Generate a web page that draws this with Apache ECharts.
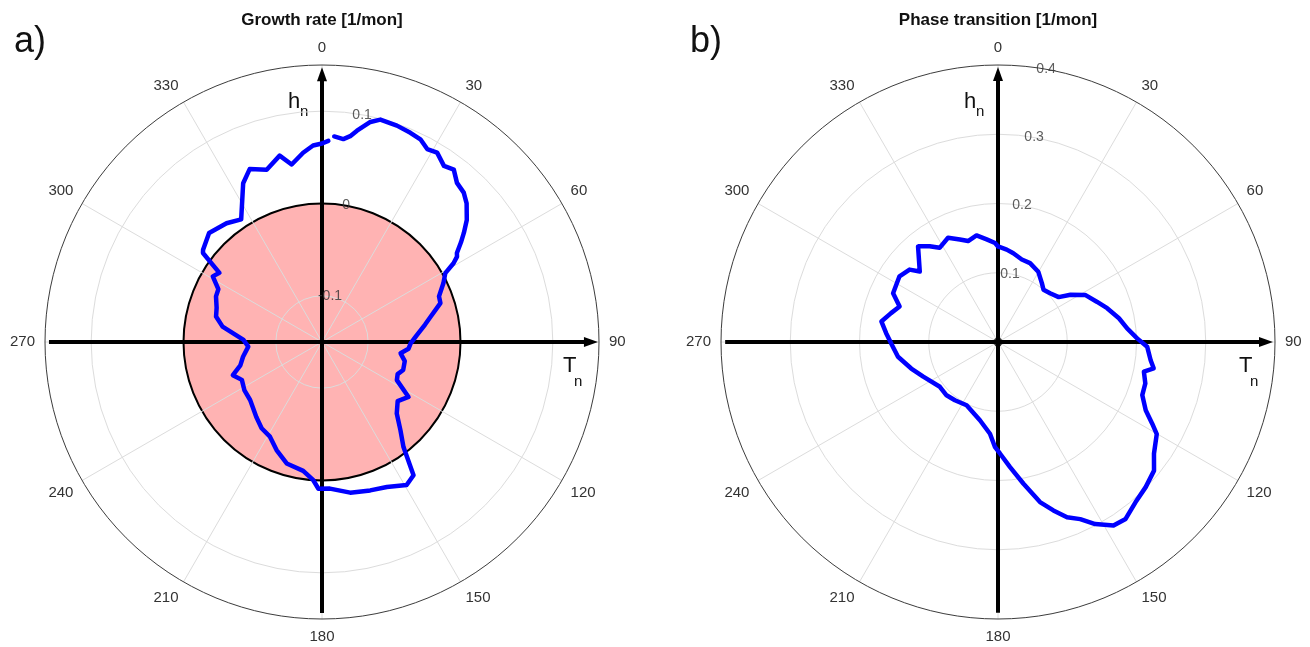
<!DOCTYPE html>
<html>
<head>
<meta charset="utf-8">
<script src="https://cdn.jsdelivr.net/npm/echarts@6/dist/echarts.min.js"></script>
<style>
  html, body { margin: 0; padding: 0; background: #fff; }
  #chart { width: 1310px; height: 647px; }
</style>
</head>
<body>
<div id="chart"></div>
<script>
// ---- data -------------------------------------------------------------
// Panel titles and panel letters
const panelTitles = ['Growth rate [1/mon]', 'Phase transition [1/mon]'];
const panelLetters = ['a)', 'b)'];

// Angle ticks (degrees, clockwise from the top)
const angleTicks = [0, 30, 60, 90, 120, 150, 180, 210, 240, 270, 300, 330];

// Radial tick labels of each panel
const growthTicks = [-0.1, 0, 0.1];
const phaseTicks = [0.1, 0.2, 0.3, 0.4];

// Radial ranges
const growthRange = [-0.15, 0.15];
const phaseRange = [0, 0.4];

// Zero growth level (filled circle in panel a)
const zeroLevel = [0];

// Growth rate curve: [angle in degrees, rate in 1/mon]
const growthCurve = [
  [3.4, 0.073], [6.0, 0.071], [7.8, 0.075], [9.4, 0.082], [12.4, 0.094], [14.7, 0.099],
  [19.1, 0.098], [22.9, 0.096], [25.9, 0.094], [28.6, 0.088], [31.3, 0.090], [34.7, 0.082],
  [37.4, 0.085], [40.3, 0.076], [43.5, 0.073], [46.2, 0.067], [49.9, 0.055], [52.4, 0.044],
  [54.4, 0.035], [56.6, 0.025], [57.7, 0.023], [59.1, 0.016], [60.8, 0.003], [64.2, -0.004],
  [68.7, -0.014], [71.8, -0.015], [76.8, -0.029], [80.5, -0.037], [85.8, -0.047], [90.9, -0.054],
  [94.5, -0.056], [98.2, -0.064], [103, -0.058], [109, -0.057], [113, -0.061], [117, -0.059],
  [122.4, -0.039], [128, -0.046], [133.7, -0.038], [138.4, -0.022], [142.2, -0.006], [145.5, 0.025],
  [149.4, 0.030], [155.9, 0.022], [162, 0.019], [169.4, 0.016], [176.9, 0.009], [181.4, 0.009],
  [183.6, 0.000], [188.3, -0.009], [196.2, -0.013], [202.8, -0.023], [208.8, -0.033], [215, -0.036],
  [221.2, -0.042], [226.7, -0.047], [231.1, -0.050], [238, -0.051], [244.7, -0.054], [249.6, -0.047],
  [254, -0.058], [259.4, -0.063], [266.4, -0.070], [271.5, -0.065], [278.8, -0.041], [283.5, -0.032],
  [288, -0.030], [293.3, -0.025], [297, -0.024], [301, -0.012], [304, -0.016], [306.8, 0.011],
  [307.8, 0.013], [314, 0.020], [321.2, 0.015], [326.6, 0.009], [333.6, 0.042], [337.3, 0.053],
  [342.2, 0.046], [347.2, 0.057], [350.3, 0.045], [354.3, 0.056], [357.4, 0.063], [360, 0.065],
  [361.8, 0.068]
];

// Phase transition curve: [angle in degrees, rate in 1/mon]
const phaseCurve = [
  [0, 0.138], [5.4, 0.134], [9.8, 0.130], [16.1, 0.124], [22.1, 0.123], [29.8, 0.117],
  [36.7, 0.106], [41.1, 0.100], [46.9, 0.103], [53.5, 0.109], [56.9, 0.125], [61.6, 0.143],
  [67.8, 0.154], [72.8, 0.165], [78.9, 0.178], [84.0, 0.1875], [88.5, 0.201], [91.8, 0.2155],
  [96.8, 0.222], [99.6, 0.228], [101.5, 0.215], [105.7, 0.221], [110.2, 0.222], [114.8, 0.235],
  [117.9, 0.252], [120.1, 0.265], [125.6, 0.277], [129.5, 0.292], [134.5, 0.299], [139.4, 0.305],
  [144.2, 0.315], [147.8, 0.313], [151.9, 0.298], [155.1, 0.282], [158.5, 0.272], [161.8, 0.256],
  [165.3, 0.239], [169.8, 0.208], [174.5, 0.1815], [179.0, 0.161], [181.6, 0.152], [185.0, 0.133],
  [193.0, 0.116], [206.4, 0.102], [216.5, 0.1046], [224.0, 0.107], [232.4, 0.106], [245.1, 0.119],
  [253.0, 0.131], [261.6, 0.146], [267.4, 0.152], [274.5, 0.162], [280.0, 0.171], [285.1, 0.160],
  [289.8, 0.151], [294.9, 0.167], [303.7, 0.171], [309.3, 0.165], [312.0, 0.152], [320.1, 0.180],
  [324.5, 0.170], [328.2, 0.160], [334.4, 0.167], [339.6, 0.158], [343.5, 0.152], [348.6, 0.157],
  [353.7, 0.149], [358.3, 0.143], [360, 0.138]
];

// ---- layout -----------------------------------------------------------
const CENTERS = [322, 998];
const CY = 342;
const RADIUS = 277;
const LABEL_ANGLE = 10;            // radial tick labels sit 10 degrees right of north
const FONT = '"Liberation Sans", Arial, Helvetica, sans-serif';
const GRID = '#dcdcdc';
const NONE = 'rgba(0,0,0,0)';

// extent of the black h/T axes, as radius values
const crossAxes = [
  { tail: 0.1435, head: 0.140, side: 0.1457, right: 0.1413 },
  { tail: 0.391, head: 0.387, side: 0.394, right: 0.387 }
];

const chart = echarts.init(document.getElementById('chart'), null, { renderer: 'canvas' });

function angleAxis(i) {
  return {
    polarIndex: i, type: 'value', min: 0, max: 360, interval: 30,
    startAngle: 90, clockwise: true,
    axisLine: { show: true, lineStyle: { color: '#3c3c3c', width: 1 } },
    axisTick: { show: false },
    axisLabel: {
      margin: 10, fontSize: 15, color: '#333', fontFamily: FONT,
      formatter: v => (angleTicks.indexOf(v) >= 0 ? String(v) : '')
    },
    splitLine: { show: true, lineStyle: { color: GRID, width: 1 } }
  };
}

function radiusAxis(i, range, interval, ticks) {
  // grid circles only at labelled ticks (the outer ring is the angle axis line)
  const colors = [];
  const n = Math.round((range[1] - range[0]) / interval);
  for (let k = 0; k <= n; k++) {
    const v = +(range[0] + k * interval).toFixed(4);
    const labelled = ticks.some(t => Math.abs(t - v) < 1e-6);
    colors.push(labelled && k < n && v !== 0 ? GRID : NONE);
  }
  return {
    polarIndex: i, type: 'value', min: range[0], max: range[1], interval: interval,
    axisLine: { show: false }, axisTick: { show: false }, axisLabel: { show: false },
    splitLine: { show: true, lineStyle: { color: colors, width: 1 } }
  };
}

function crossAxisSeries(i) {
  const a = crossAxes[i];
  const common = {
    type: 'line', coordinateSystem: 'polar', polarIndex: i, silent: true, clip: false,
    lineStyle: { color: '#000', width: 4 }, itemStyle: { color: '#000' }, z: 3
  };
  return [
    Object.assign({}, common, {
      data: [
        { value: [a.tail, 180], symbol: 'none' },
        { value: [a.head, 0], symbol: 'triangle', symbolSize: [10, 14], symbolRotate: 0 }
      ]
    }),
    Object.assign({}, common, {
      data: [
        { value: [a.side, 270], symbol: 'none' },
        { value: [a.right, 90], symbol: 'triangle', symbolSize: [10, 14], symbolRotate: -90 }
      ]
    })
  ];
}

function tickLabelSeries(i, ticks) {
  return {
    type: 'scatter', coordinateSystem: 'polar', polarIndex: i, silent: true,
    data: ticks.map(v => [v, LABEL_ANGLE]),
    symbolSize: 1, itemStyle: { color: NONE },
    label: {
      show: true, position: 'inside', fontSize: 14, color: '#333', fontFamily: FONT,
      formatter: p => String(p.value[0])
    },
    z: 6
  };
}

function curveSeries(i, curve) {
  return {
    type: 'line', coordinateSystem: 'polar', polarIndex: i, silent: true,
    data: curve.map(d => [d[1], d[0]]),
    showSymbol: false, smooth: false,
    lineStyle: { color: '#0000ff', width: 4.5, join: 'round', cap: 'round' },
    z: 5
  };
}

const series = [
  // zero growth disc
  {
    type: 'custom', coordinateSystem: 'polar', polarIndex: 0, silent: true, z: -1,
    data: zeroLevel.map(v => [v, 0]),
    renderItem: (params, api) => {
      const c = api.coord([growthRange[0], 0]);
      const e = api.coord([api.value(0), 90]);
      const r = Math.hypot(e[0] - c[0], e[1] - c[1]);
      return {
        type: 'circle', shape: { cx: c[0], cy: c[1], r: r },
        style: { fill: '#ffb3b3', stroke: '#000', lineWidth: 2 }
      };
    }
  },
  ...crossAxisSeries(0),
  ...crossAxisSeries(1),
  curveSeries(0, growthCurve),
  curveSeries(1, phaseCurve),
  tickLabelSeries(0, growthTicks),
  tickLabelSeries(1, phaseTicks),
  {
    type: 'scatter', coordinateSystem: 'polar', polarIndex: 1, silent: true,
    data: [[0, 0]], symbolSize: 9, itemStyle: { color: '#000' }, z: 4
  }
];

function textEl(x, y, text, font, align) {
  return {
    type: 'text', x: x, y: y, silent: true,
    style: { text: text, font: font, fill: '#111',
             textAlign: align, textVerticalAlign: 'middle', align: align, verticalAlign: 'middle' }
  };
}

const graphic = [];
CENTERS.forEach((cx, i) => {
  graphic.push(textEl(cx, 20, panelTitles[i], 'bold 17px ' + FONT, 'center'));
  graphic.push(textEl(cx - 308, 42, panelLetters[i], '36px ' + FONT, 'left'));
  // h_n label on the vertical axis
  graphic.push(textEl(cx - 34, CY - 240, 'h', '22px ' + FONT, 'left'));
  graphic.push(textEl(cx - 22, CY - 230, 'n', '15px ' + FONT, 'left'));
  // T_n label on the horizontal axis
  graphic.push(textEl(cx + 241, CY + 24, 'T', '22px ' + FONT, 'left'));
  graphic.push(textEl(cx + 252, CY + 40, 'n', '15px ' + FONT, 'left'));
});

chart.setOption({
  animation: false,
  backgroundColor: '#fff',
  textStyle: { fontFamily: FONT },
  polar: CENTERS.map(cx => ({ center: [cx, CY], radius: RADIUS })),
  angleAxis: [angleAxis(0), angleAxis(1)],
  radiusAxis: [
    radiusAxis(0, growthRange, 0.05, growthTicks),
    radiusAxis(1, phaseRange, 0.1, phaseTicks)
  ],
  series: series,
  graphic: graphic
});
</script>
</body>
</html>
